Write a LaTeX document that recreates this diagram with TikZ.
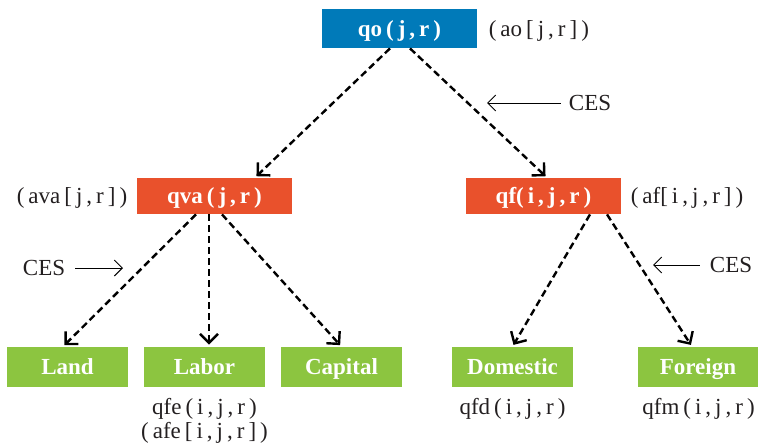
\documentclass[tikz,border=0pt]{standalone}
\usepackage{fontspec}
\setmainfont{Liberation Serif}
\usetikzlibrary{arrows.meta}
\definecolor{boxblue}{RGB}{0,122,185}
\definecolor{boxorange}{RGB}{233,81,44}
\definecolor{boxgreen}{RGB}{140,197,64}
\definecolor{txtgray}{RGB}{35,31,32}
\newcommand{\sgap}{\hspace{2pt}}
\tikzset{
         nestbox/.style=
          {
           fill=#1,
           text=white,
           font=\fontsize{11.5}{13}\selectfont\bfseries,
           inner sep=0pt,
           text height=9pt,
           text depth=1.3pt,
           minimum width=77.5pt,
           minimum height=18pt
          },
         leafbox/.style=
          {
           nestbox=boxgreen,
           minimum width=60.5pt,
           minimum height=20pt
          },
         note/.style={text=txtgray,font=\fontsize{11.5}{13}\selectfont,inner sep=0pt},
         flow/.style=
          {
           line width=1.2pt,
           dash pattern=on 3.5pt off 2pt,
           -{Straight Barb[length=4.5pt,width=9pt]},
           shorten >=1pt
          },
         cesarrow/.style={line width=0.5pt,-{Straight Barb[length=4pt,width=8pt]}}
        }
\begin{document}
\begin{tikzpicture}[x=0.5pt,y=-0.5pt]
\useasboundingbox (0,0) rectangle (758,445);
% nests
\node[nestbox=boxblue,minimum height=19.5pt] (qo) at (399.5,28.5) {qo\sgap(\sgap j\sgap,\sgap r\sgap)};
\node[nestbox=boxorange] (qva) at (214.5,196) {qva\sgap(\sgap j\sgap,\sgap r\sgap)};
\node[nestbox=boxorange] (qf) at (543.5,196) {qf(\sgap i\sgap,\sgap j\sgap,\sgap r\sgap)};
%inputs
\node[leafbox] (land) at (67.5,367) {Land};
\node[leafbox] (labor) at (204.5,367) {Labor};
\node[leafbox] (capital) at (341.5,367) {Capital};
\node[leafbox] (domestic) at (512.5,367) {Domestic};
\node[leafbox] (foreign) at (698,367) {Foreign};
%parameters
\node[note,anchor=base west] (ao) at ([xshift=5.5pt]qo.base east) {(\sgap ao\sgap[\sgap j\sgap,\sgap r\sgap]\sgap)};
\node[note,anchor=base east] (ava) at ([xshift=-4.5pt]qva.base west) {(\sgap ava\sgap[\sgap j\sgap,\sgap r\sgap]\sgap)};
\node[note,anchor=base west] (af) at ([xshift=4.5pt]qf.base east) {(\sgap af[\sgap i\sgap,\sgap j\sgap,\sgap r\sgap]\sgap)};
\node[note] (qfe) at (204.5,409) {qfe\sgap(\sgap i\sgap,\sgap j\sgap,\sgap r\sgap)};
\node[note] (afe) at (204.5,433) {(\sgap afe\sgap[\sgap i\sgap,\sgap j\sgap,\sgap r\sgap]\sgap)};
\node[note] (qfd) at (512.5,408.5) {qfd\sgap(\sgap i\sgap,\sgap j\sgap,\sgap r\sgap)};
\node[note] (qfm) at (698.5,408.5) {qfm\sgap(\sgap i\sgap,\sgap j\sgap,\sgap r\sgap)};
%CES labels
\node[note] (cestop) at (590,103) {CES};
\node[note] (cesleft) at (44,268) {CES};
\node[note] (cesright) at (731,265) {CES};
\coordinate (cestoptip) at (487,103);
\coordinate (cesleftip) at (123,268);
\coordinate (cesrightip) at (653,265);
\draw[cesarrow] ([xshift=-4pt]cestop.west) -- (cestoptip);
\draw[cesarrow] ([xshift=5pt]cesleft.east) -- (cesleftip);
\draw[cesarrow] ([xshift=-5pt]cesright.west) -- (cesrightip);
%flows
\draw[flow] ([xshift=-4.75pt]qo.south) -- ([xshift=20.25pt]qva.north);
\draw[flow] ([xshift=5.25pt]qo.south) -- ([xshift=1.75pt]qf.north);
\draw[flow] ([xshift=-9.25pt]qva.south) -- ([xshift=-2.25pt]land.north);
\draw[flow] ([xshift=-2.75pt]qva.south) -- ([xshift=2.25pt]labor.north);
\draw[flow] ([xshift=3.75pt]qva.south) -- (capital.north);
\draw[flow] ([xshift=23.25pt]qf.south) -- (domestic.north);
\draw[flow] ([xshift=31.75pt]qf.south) -- ([xshift=-3pt]foreign.north);
\end{tikzpicture}
\end{document}
